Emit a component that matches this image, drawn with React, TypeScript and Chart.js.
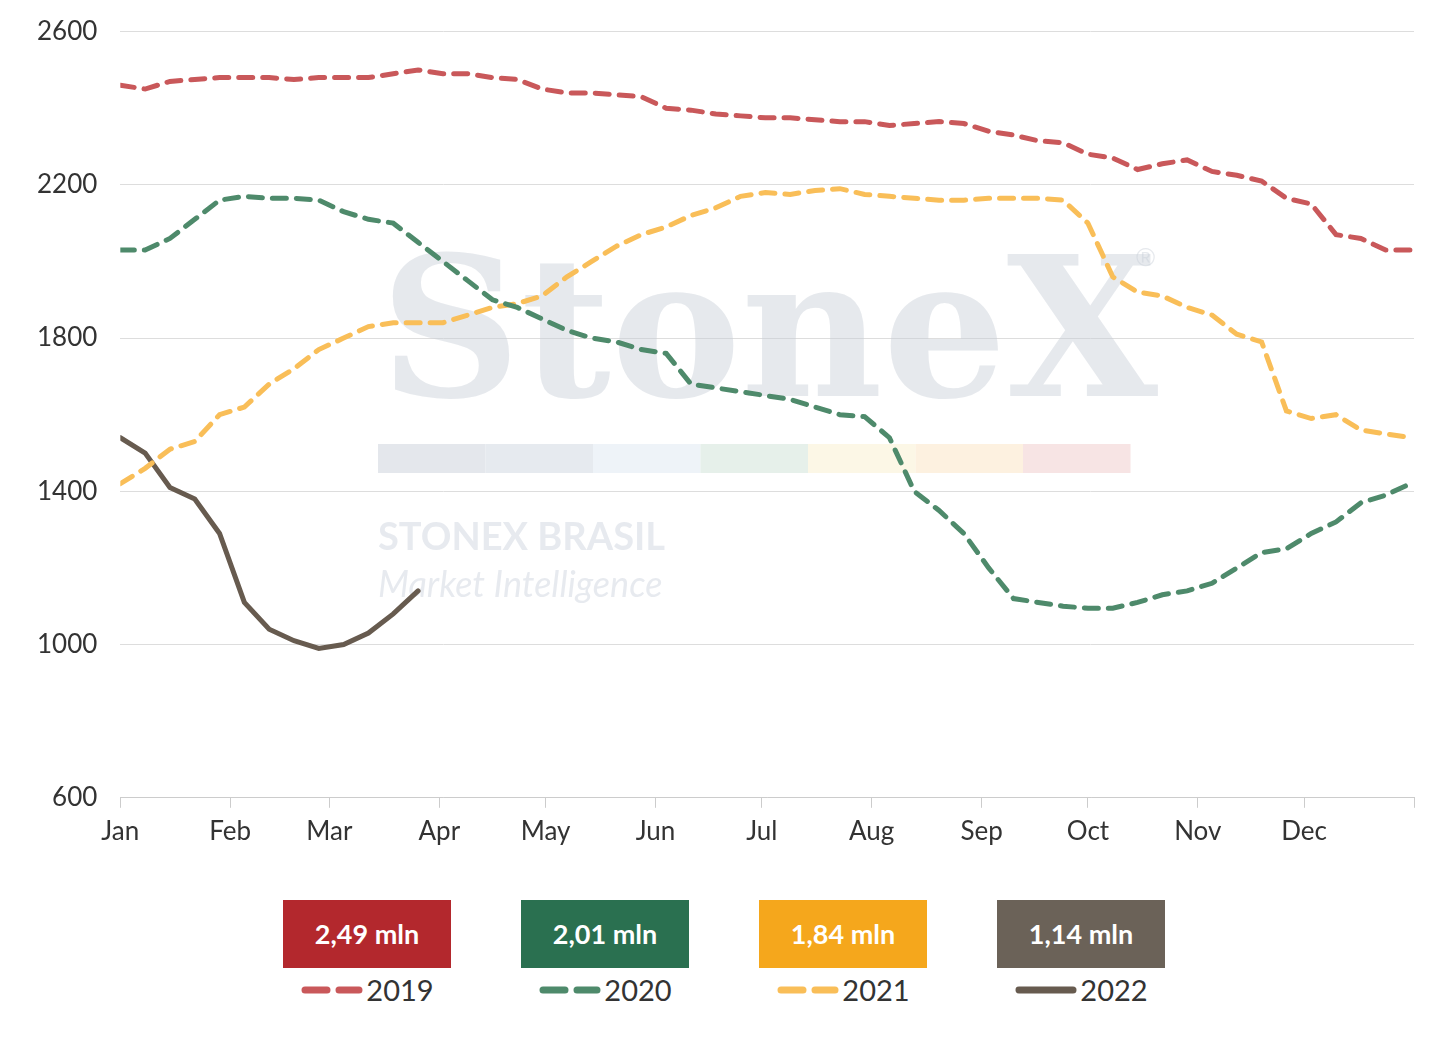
import React, { useEffect, useRef } from "react";
import { Chart, registerables } from "chart.js";
Chart.register(...registerables);

const monthLabels = ["Jan","Feb","Mar","Apr","May","Jun","Jul","Aug","Sep","Oct","Nov","Dec"];
const monthStarts = [0,31,59,90,120,151,181,212,243,273,304,334];
const s2019 = [2460,2450,2470,2475,2480,2480,2480,2475,2480,2480,2480,2490,2500,2490,2490,2480,2475,2450,2440,2440,2435,2430,2400,2395,2385,2380,2375,2375,2370,2365,2365,2355,2360,2365,2360,2340,2330,2315,2310,2280,2270,2240,2255,2265,2235,2225,2210,2165,2150,2070,2060,2030,2030];
const s2020 = [2030,2030,2060,2110,2160,2170,2165,2165,2160,2130,2110,2100,2050,2000,1950,1900,1880,1850,1820,1800,1790,1770,1760,1680,1670,1660,1650,1640,1620,1600,1595,1540,1400,1350,1290,1200,1120,1110,1100,1095,1095,1110,1130,1140,1160,1200,1240,1250,1290,1320,1370,1390,1420];
const s2021 = [1420,1460,1510,1530,1600,1620,1680,1720,1770,1800,1830,1840,1840,1840,1860,1880,1890,1910,1960,2000,2040,2070,2090,2120,2140,2170,2180,2175,2185,2190,2175,2170,2165,2160,2160,2165,2165,2165,2160,2100,1960,1920,1910,1880,1860,1810,1790,1610,1590,1600,1560,1550,1540];
const s2022 = [1540,1500,1410,1380,1290,1110,1040,1010,990,1000,1030,1080,1140];
const legendItems = [
  { label: "2019", value: "2,49 mln", box: "#B3282D", line: "#C9585A", dashed: true },
  { label: "2020", value: "2,01 mln", box: "#2A7050", line: "#4E8A6B", dashed: true },
  { label: "2021", value: "1,84 mln", box: "#F5A71C", line: "#F9BE58", dashed: true },
  { label: "2022", value: "1,14 mln", box: "#6B6258", line: "#675B4F", dashed: false },
];

const toPts = (arr: number[]) => arr.map((v, i) => ({ x: i * 7, y: v }));
const FONT = "Lato, 'Open Sans', sans-serif";
const SHIFT = 15;

const watermark = {
  id: "wm",
  beforeDatasetsDraw(chart: any) {
    const { ctx } = chart;
    ctx.save();
    ctx.translate(0, SHIFT);
    ctx.fillStyle = "rgba(200,206,216,0.45)";
    ctx.font = "bold 195px 'DejaVu Serif', serif";
    ctx.textBaseline = "alphabetic";
    ctx.fillText("StoneX", 372, 388);
    ctx.font = "26px sans-serif";
    ctx.fillText("®", 1128, 258);
    const cols = ["#e4e7ec","#e6eaef","#eef3f8","#e6f0ea","#fcf7e6","#fdf1e0","#f7e4e4"];
    const x0 = 370, bw = 107.5;
    cols.forEach((c, i) => { ctx.fillStyle = c; ctx.fillRect(x0 + i * bw, 436, bw, 29); });
    ctx.fillStyle = "rgba(215,220,228,0.6)";
    ctx.font = `bold 38px ${FONT}`;
    ctx.fillText("STONEX BRASIL", 370, 542);
    ctx.font = `italic 36px ${FONT}`;
    ctx.fillText("Market Intelligence", 370, 589);
    ctx.restore();
  },
};

export default function App() {
  const ref = useRef<HTMLCanvasElement>(null);
  useEffect(() => {
    const mk = (label: string, data: number[], color: string, dashed: boolean) => ({
      label, data: toPts(data), borderColor: color, borderWidth: 5,
      borderDash: dashed ? [14, 10] : [], pointRadius: 0, tension: 0, fill: false,
      borderCapStyle: "round" as const,
    });
    const chart = new Chart(ref.current!, {
      type: "line",
      data: {
        datasets: [
          mk("2019", s2019, "#C9585A", true),
          mk("2020", s2020, "#4E8A6B", true),
          mk("2021", s2021, "#F9BE58", true),
          mk("2022", s2022, "#675B4F", false),
        ],
      },
      options: {
        animation: false, responsive: true, maintainAspectRatio: false,
        layout: { padding: { top: 0, right: 10, left: 6 } },
        plugins: { legend: { display: false }, tooltip: { enabled: false } },
        scales: {
          x: {
            type: "linear", min: 0, max: 365,
            afterBuildTicks: (ax: any) => { ax.ticks = [...monthStarts, 365].map(v => ({ value: v })); },
            ticks: {
              autoSkip: false, maxRotation: 0, color: "#333", font: { size: 26, family: FONT }, padding: 8,
              callback: (v: any) => { const i = monthStarts.indexOf(v); return i >= 0 ? monthLabels[i] : ""; },
            },
            grid: { drawOnChartArea: false, color: "#ccc", tickLength: 10 },
            border: { color: "#ccc" },
          },
          y: {
            min: 600, max: 2600,
            ticks: { stepSize: 400, color: "#333", font: { size: 26, family: FONT }, padding: 23, callback: (v: any) => String(v) },
            grid: { color: "#ddd", drawTicks: false },
            border: { display: false },
          },
        },
      },
      plugins: [watermark],
    });
    return () => chart.destroy();
  }, []);
  return (
    <div style={{ fontFamily: FONT }}>
      <div style={{ height: 862, position: "relative", marginTop: -SHIFT }}><canvas ref={ref} /></div>
      <div style={{ display: "flex", justifyContent: "center", gap: 70, marginTop: 45, paddingLeft: 16 }}>
        {legendItems.map(it => (
          <div key={it.label} style={{ display: "flex", flexDirection: "column", alignItems: "center" }}>
            <div style={{ background: it.box, color: "#fff", fontWeight: "bold", fontSize: 27, padding: "0 25px", height: 68, lineHeight: "68px", minWidth: 118, textAlign: "center" }}>{it.value}</div>
            <div style={{ display: "flex", alignItems: "center", marginTop: 4, fontSize: 29, color: "#333" }}>
              <svg width="64" height="10" style={{ marginRight: 2 }}>
                <line x1="5" y1="5" x2="59" y2="5" stroke={it.line} strokeWidth="7" strokeLinecap="round" strokeDasharray={it.dashed ? "22 12" : ""} />
              </svg>
              {it.label}
            </div>
          </div>
        ))}
      </div>
    </div>
  );
}
